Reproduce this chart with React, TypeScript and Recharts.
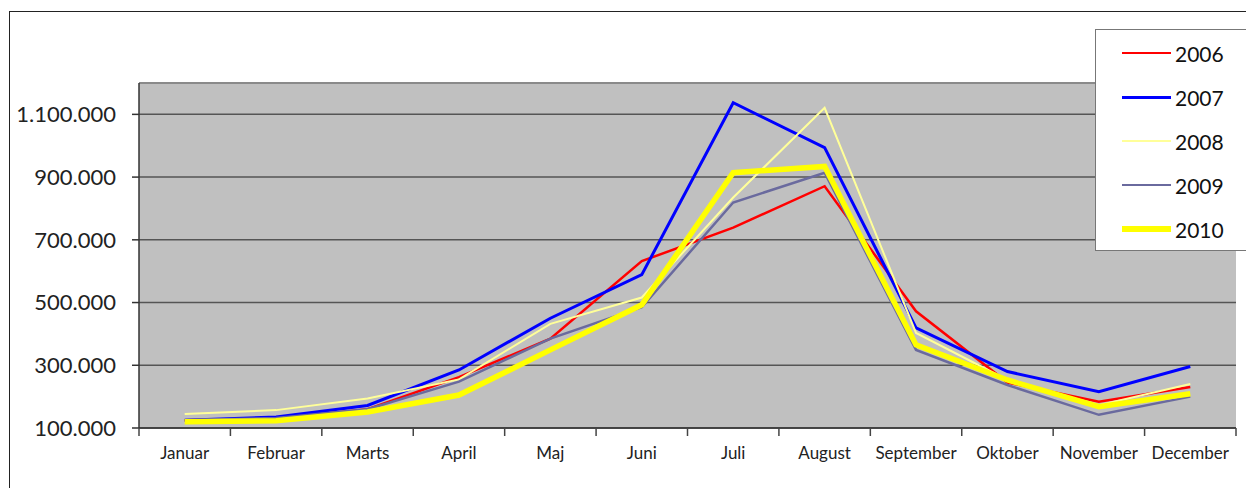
import React from 'react';
import { LineChart, Line, XAxis, YAxis, CartesianGrid, ReferenceLine } from 'recharts';

const MONTHS = ['Januar', 'Februar', 'Marts', 'April', 'Maj', 'Juni', 'Juli', 'August', 'September', 'Oktober', 'November', 'December'];
const Y2006 = [125000, 130000, 160000, 262000, 385000, 632000, 739000, 871000, 472000, 245000, 184000, 231000];
const Y2007 = [125000, 135000, 172000, 285000, 450000, 589000, 1137000, 994000, 419000, 280000, 216000, 296000];
const Y2008 = [145000, 157000, 194000, 255000, 432000, 516000, 835000, 1121000, 403000, 253000, 173000, 240000];
const Y2009 = [125000, 132000, 160000, 248000, 385000, 485000, 819000, 914000, 349000, 237000, 142000, 200000];
const Y2010 = [120000, 123000, 151000, 205000, 349000, 493000, 914000, 934000, 365000, 253000, 168000, 209000];
const Y_TICKS = [100000, 300000, 500000, 700000, 900000, 1100000];

const SERIES = [
  { key: '2006', color: '#FF0000', width: 2.5, values: Y2006 },
  { key: '2007', color: '#0000FF', width: 3, values: Y2007 },
  { key: '2008', color: '#FFFF99', width: 2, values: Y2008 },
  { key: '2009', color: '#6A6A9E', width: 2.5, values: Y2009 },
  { key: '2010', color: '#FFFF00', width: 5.5, values: Y2010 },
];

const data = MONTHS.map((m, i) => {
  const row: Record<string, string | number> = { month: m };
  SERIES.forEach((s) => {
    row[s.key] = s.values[i];
  });
  return row;
});

const FONT = 'Lato, "Open Sans", sans-serif';

const CHART_W = 1246;
const CHART_H = 488;
const MARGIN = { top: 83, right: 10, bottom: 20, left: 0 };
const Y_AXIS_W = 139;
const PLOT_W = CHART_W - MARGIN.left - MARGIN.right - Y_AXIS_W;
const HALF_BAND = PLOT_W / MONTHS.length / 2;

const fmt = (v: number) => String(v).replace(/\B(?=(\d{3})+(?!\d))/g, '.');

const XTick = (props: any) => {
  const { x, y, payload, index } = props;
  const last = index === MONTHS.length - 1;
  return (
    <g>
      <line x1={x - HALF_BAND} x2={x - HALF_BAND} y1={y} y2={y + 8} stroke="#444" strokeWidth={1.5} />
      {last && <line x1={x + HALF_BAND} x2={x + HALF_BAND} y1={y} y2={y + 8} stroke="#444" strokeWidth={1.5} />}
      <text x={x} y={y + 31} textAnchor="middle" fontSize={17} fill="#222" fontFamily={FONT}>
        {payload.value}
      </text>
    </g>
  );
};

const LegendBox = () => (
  <div
    style={{
      position: 'absolute',
      left: 1095,
      top: 29,
      width: 170,
      height: 222,
      background: '#fff',
      border: '1px solid #777',
      boxSizing: 'border-box',
      paddingTop: 1,
    }}
  >
    {SERIES.map((s) => (
      <div key={s.key} style={{ height: 44, display: 'flex', alignItems: 'center' }}>
        <div style={{ width: 26 }} />
        <div style={{ width: 49, height: s.width, background: s.color }} />
        <span style={{ marginLeft: 4, fontSize: 21, fontFamily: FONT, color: '#111' }}>{s.key}</span>
      </div>
    ))}
  </div>
);

export default function App() {
  return (
    <div style={{ position: 'absolute', left: 0, top: 0, width: CHART_W, height: CHART_H, overflow: 'hidden', background: '#fff' }}>
      <div
        style={{
          position: 'absolute',
          left: 9,
          top: 11,
          width: 1300,
          height: 600,
          border: '1.5px solid #222',
        }}
      />
      <div style={{ position: 'absolute', left: 0, top: 0 }}>
        <LineChart width={CHART_W} height={CHART_H} data={data} margin={MARGIN}>
          <CartesianGrid vertical={false} stroke="#555" strokeWidth={1.5} fill="#C0C0C0" fillOpacity={1} />
          <ReferenceLine y={1200000} stroke="#8a8a8a" strokeWidth={2} ifOverflow="extendDomain" />
          <XAxis
            dataKey="month"
            interval={0}
            tickLine={false}
            tickSize={0}
            tickMargin={0}
            height={40}
            padding={{ left: HALF_BAND, right: HALF_BAND }}
            stroke="#333"
            strokeWidth={1.5}
            tick={<XTick />}
          />
          <YAxis
            width={Y_AXIS_W}
            domain={[100000, 1200000]}
            ticks={Y_TICKS}
            tickFormatter={fmt}
            tickSize={7}
            tickMargin={16}
            stroke="#333"
            strokeWidth={1.5}
            tick={{ fontSize: 22, fill: '#222', fontFamily: FONT }}
            allowDataOverflow
          />
          <YAxis
            yAxisId="frame"
            orientation="right"
            width={0}
            domain={[100000, 1200000]}
            tick={false}
            tickLine={false}
            stroke="#8a8a8a"
            strokeWidth={2}
          />
          {SERIES.map((s) => (
            <Line
              key={s.key}
              type="linear"
              dataKey={s.key}
              stroke={s.color}
              strokeWidth={s.width}
              dot={false}
              activeDot={false}
              isAnimationActive={false}
            />
          ))}
        </LineChart>
      </div>
      <LegendBox />
    </div>
  );
}
